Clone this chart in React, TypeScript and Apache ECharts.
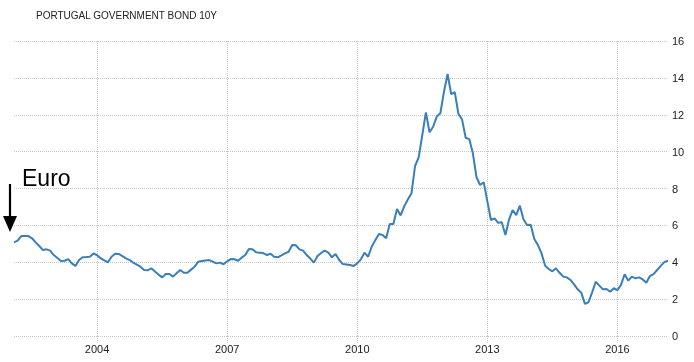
import { useEffect, useRef } from "react";
import * as echarts from "echarts";

// Monthly 10Y yields, first value = February 2002
const firstYear = 2002;
const firstMonth = 2;
const yields2002 = [5.08, 5.17, 5.42, 5.43, 5.42, 5.3, 5.08, 4.88, 4.66, 4.7, 4.63];
const yields2003 = [4.39, 4.23, 4.07, 4.08, 4.17, 3.94, 3.8, 4.12, 4.27, 4.28, 4.3, 4.48];
const yields2004 = [4.38, 4.21, 4.1, 4.0, 4.3, 4.46, 4.45, 4.33, 4.21, 4.12, 3.98, 3.87];
const yields2005 = [3.76, 3.58, 3.56, 3.67, 3.5, 3.33, 3.18, 3.36, 3.36, 3.22, 3.4, 3.58];
const yields2006 = [3.43, 3.43, 3.6, 3.76, 4.03, 4.07, 4.1, 4.12, 4.03, 3.94, 3.98, 3.89];
const yields2007 = [4.05, 4.17, 4.16, 4.08, 4.25, 4.39, 4.72, 4.7, 4.54, 4.52, 4.5, 4.39];
const yields2008 = [4.46, 4.3, 4.27, 4.37, 4.48, 4.57, 4.93, 4.92, 4.7, 4.63, 4.39, 4.2];
const yields2009 = [3.98, 4.34, 4.5, 4.63, 4.52, 4.27, 4.45, 4.12, 3.9, 3.88, 3.85, 3.8];
const yields2010 = [3.94, 4.16, 4.52, 4.3, 4.84, 5.2, 5.53, 5.48, 5.3, 6.07, 6.07, 6.89];
const yields2011 = [6.54, 7.03, 7.4, 7.74, 9.22, 9.69, 10.9, 12.13, 11.05, 11.35, 11.9, 12.08];
const yields2012 = [13.25, 14.21, 13.12, 13.22, 12.04, 11.75, 10.75, 10.68, 9.91, 8.61, 8.19, 8.34];
const yields2013 = [7.3, 6.29, 6.38, 6.14, 6.17, 5.48, 6.31, 6.83, 6.56, 7.07, 6.33, 6.02];
const yields2014 = [6.04, 5.26, 4.93, 4.48, 3.81, 3.63, 3.51, 3.67, 3.43, 3.22, 3.18, 3.04];
const yields2015 = [2.8, 2.53, 2.35, 1.74, 1.83, 2.37, 2.94, 2.73, 2.53, 2.55, 2.4, 2.59];
const yields2016 = [2.49, 2.77, 3.35, 3.0, 3.22, 3.13, 3.18, 3.07, 2.89, 3.25, 3.36, 3.58];
const yields2017 = [3.8, 4.01, 4.08];

const xTickYears = [2004, 2007, 2010, 2013, 2016];
const title = "PORTUGAL GOVERNMENT BOND 10Y";
const annotation = "Euro";

const allYields = [
  ...yields2002, ...yields2003, ...yields2004, ...yields2005, ...yields2006,
  ...yields2007, ...yields2008, ...yields2009, ...yields2010, ...yields2011,
  ...yields2012, ...yields2013, ...yields2014, ...yields2015, ...yields2016,
  ...yields2017,
];

export default function App() {
  const ref = useRef<HTMLDivElement>(null);

  useEffect(() => {
    if (!ref.current) return;
    const chart = echarts.init(ref.current, null, { renderer: "svg" });
    const data = allYields.map((v, i) => [firstYear + (firstMonth - 1 + i) / 12, v]);
    const tStart = data[0][0];
    const tEnd = data[data.length - 1][0];
    const grid = "#c8c8c8";
    const font = "'Liberation Sans', Arial, sans-serif";

    chart.setOption({
      animation: false,
      textStyle: { fontFamily: font },
      grid: { left: 14, right: 26, top: 41, bottom: 26, containLabel: false },
      xAxis: {
        type: "value",
        min: tStart,
        max: tEnd,
        axisLine: { show: false },
        axisTick: {
          show: true,
          customValues: xTickYears,
          length: 7,
          lineStyle: { color: grid, type: [1, 1] },
        },
        axisLabel: {
          customValues: xTickYears,
          formatter: (v: number) => String(Math.round(v)),
          color: "#222",
          fontSize: 11,
          margin: 7,
          fontFamily: font,
        },
        splitLine: { show: true, lineStyle: { color: grid, type: [1, 1] } },
      },
      yAxis: {
        type: "value",
        position: "right",
        min: 0,
        max: 16,
        interval: 2,
        axisLine: { show: false },
        axisTick: { show: false },
        axisLabel: { color: "#222", fontSize: 11, margin: 4, fontFamily: font },
        splitLine: { show: true, lineStyle: { color: grid, type: [1, 1] } },
      },
      series: [
        {
          type: "line",
          data,
          showSymbol: false,
          symbol: "none",
          lineStyle: { color: "#3a7fb8", width: 2 },
          itemStyle: { color: "#3a7fb8" },
        },
      ],
      graphic: [
        {
          type: "text",
          x: 36,
          y: 15.5,
          style: {
            text: title,
            fill: "#222",
            fontSize: 10,
            fontFamily: font,
            align: "left",
            verticalAlign: "middle",
          },
        },
        {
          type: "text",
          x: 22,
          y: 177.5,
          style: {
            text: annotation,
            fill: "#000",
            fontSize: 23,
            fontFamily: font,
            align: "left",
            verticalAlign: "middle",
          },
        },
        {
          type: "line",
          shape: { x1: 10, y1: 184, x2: 10, y2: 218 },
          style: { stroke: "#000", lineWidth: 2.2 },
        },
        {
          type: "polygon",
          shape: { points: [[3, 216], [17, 216], [10, 232]] },
          style: { fill: "#000" },
        },
      ],
    });
    return () => chart.dispose();
  }, []);

  return (
    <div
      ref={ref}
      style={{ position: "fixed", left: 0, top: 0, width: 694, height: 362 }}
    />
  );
}
